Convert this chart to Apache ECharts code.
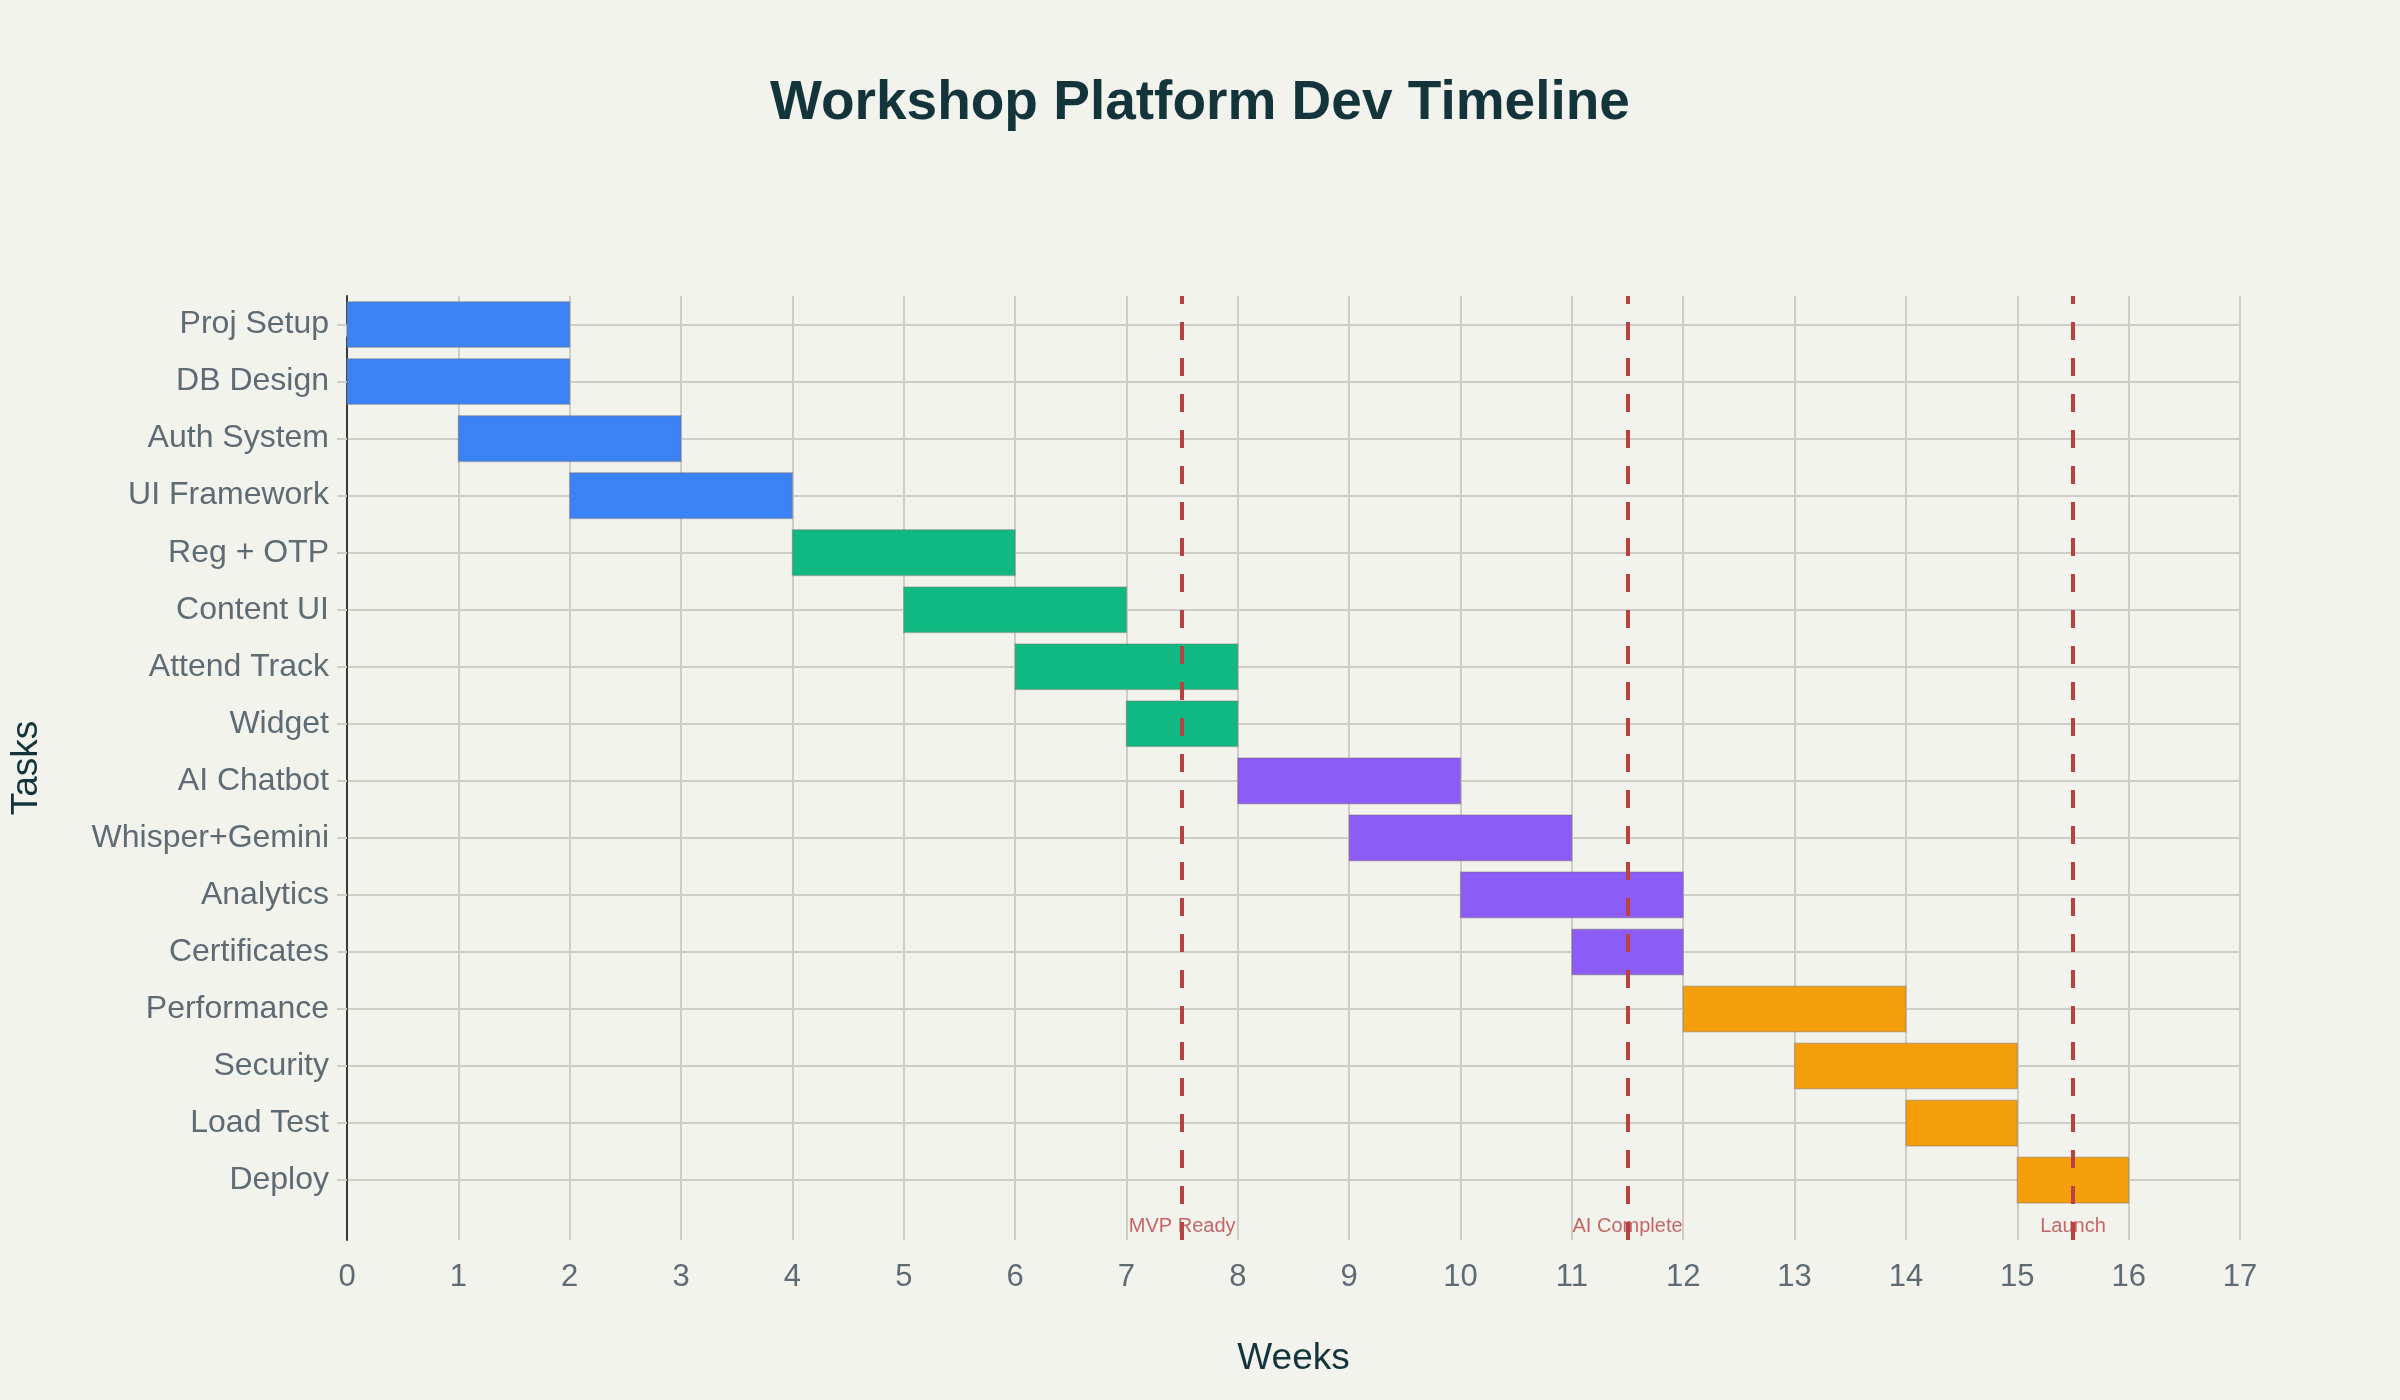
<!DOCTYPE html>
<html>
<head>
<meta charset="utf-8">
<script src="https://cdn.jsdelivr.net/npm/echarts@6/dist/echarts.min.js"></script>
<style>
html,body{margin:0;padding:0;background:#f3f3ee;}
#c{width:2400px;height:1400px;}
</style>
</head>
<body>
<div id="c"></div>
<script>
// ---- data ----
const tasks = ['Proj Setup','DB Design','Auth System','UI Framework','Reg + OTP','Content UI','Attend Track','Widget','AI Chatbot','Whisper+Gemini','Analytics','Certificates','Performance','Security','Load Test','Deploy'];
const startWeek = [0,0,1,2,4,5,6,7,8,9,10,11,12,13,14,15];
const endWeek   = [2,2,3,4,6,7,8,8,10,11,12,12,14,15,15,16];
const phase     = [0,0,0,0,1,1,1,1,2,2,2,2,3,3,3,3];
const phaseColors = ['#3b82f6','#10b981','#8b5cf6','#f59e0b'];
const milestoneWeeks = [7.5, 11.5, 15.5];
const milestoneNames = ['MVP Ready','AI Complete','Launch'];
const xTicks = [0,1,2,3,4,5,6,7,8,9,10,11,12,13,14,15,16,17];

// ---- chart ----
const Y_MIN = -0.5, Y_MAX = 16.05, LABEL_Y = 15.81;
const FONT = '"Liberation Sans", Arial, sans-serif';
const GRID_COLOR = '#d0cdc7';
const chart = echarts.init(document.getElementById('c'), null, {renderer:'canvas'});

const barData = tasks.map((t,i)=>({value:[startWeek[i], endWeek[i], i], itemStyle:{color:phaseColors[phase[i]]}}));

const option = {
  backgroundColor:'#f3f3ee',
  animation:false,
  textStyle:{fontFamily:FONT},
  title:{
    text:'Workshop Platform Dev Timeline',
    left:'center', top:76, padding:0,
    textStyle:{fontFamily:FONT, fontSize:55, fontWeight:'bold', color:'#13343b'}
  },
  grid:{left:345, right:160, top:296, bottom:160, containLabel:false},
  xAxis:{
    type:'value', min:0, max:17, interval:1,
    name:'Weeks', nameLocation:'middle', nameGap:100,
    nameTextStyle:{fontFamily:FONT, fontSize:37, color:'#13343b'},
    axisLine:{show:false},
    axisTick:{show:true, length:12, lineStyle:{color:GRID_COLOR, width:2}},
    axisLabel:{fontFamily:FONT, fontSize:31, color:'#5f6b73', margin:22, customValues:xTicks},
    splitLine:{show:true, lineStyle:{color:GRID_COLOR, width:2}}
  },
  yAxis:{
    type:'value', inverse:true, min:Y_MIN, max:Y_MAX,
    name:'Tasks', nameLocation:'middle', nameGap:302,
    nameTextStyle:{fontFamily:FONT, fontSize:37, color:'#13343b'},
    axisLine:{show:true, onZero:false, lineStyle:{color:'#3a3a3a', width:2}},
    axisTick:{show:true, length:10, customValues:tasks.map((t,i)=>i), lineStyle:{color:GRID_COLOR, width:2}},
    axisLabel:{fontFamily:FONT, fontSize:32, color:'#5f6b73', margin:18, customValues:tasks.map((t,i)=>i),
      formatter:(v)=>tasks[Math.round(v)] || ''},
    splitLine:{show:true, lineStyle:{color:GRID_COLOR, width:2}}
  },
  series:[
    {
      type:'custom', name:'Tasks', z:2,
      encode:{x:[0,1], y:2},
      data:barData,
      renderItem:(params, api)=>{
        const s = api.value(0), e = api.value(1), idx = api.value(2);
        const p0 = api.coord([s, idx]), p1 = api.coord([e, idx]);
        const h = api.size([0,1])[1]*0.8;
        return {type:'rect', shape:{x:p0[0], y:p0[1]-h/2, width:p1[0]-p0[0], height:h},
          style:{fill:api.visual('color'), stroke:'rgba(120,110,100,0.35)', lineWidth:1.5}};
      }
    },
    {
      type:'scatter', name:'Milestones', z:5,
      symbolSize:0,
      data:milestoneWeeks.map((w,i)=>({value:[w, LABEL_Y], name:milestoneNames[i]})),
      label:{show:true, position:'inside', formatter:(p)=>p.name, fontFamily:FONT, fontSize:20, color:'#b94141'},
      markLine:{
        silent:true, symbol:'none', z:6,
        label:{show:false},
        lineStyle:{color:'#b94141', width:4, type:[18,18], dashOffset:10},
        data:milestoneWeeks.map(w=>[{coord:[w, Y_MIN]},{coord:[w, Y_MAX]}])
      }
    }
  ]
};
chart.setOption(option);
</script>
</body>
</html>
